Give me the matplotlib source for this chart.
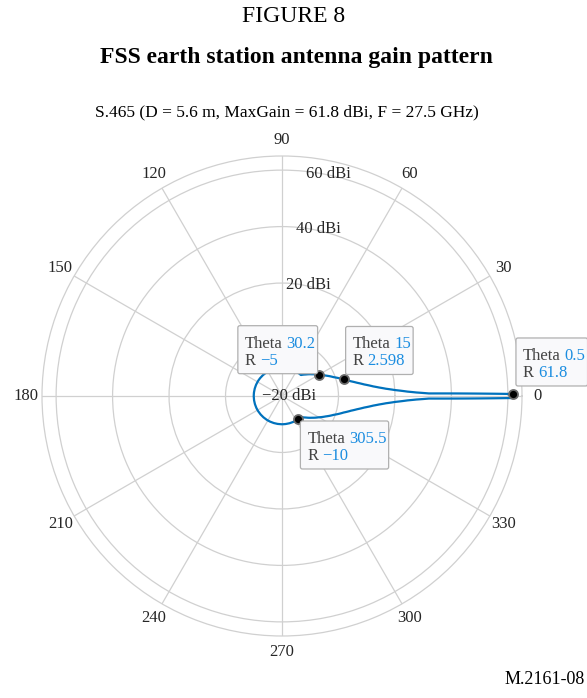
import numpy as np
import matplotlib
matplotlib.use('Agg')
import matplotlib.pyplot as plt
from matplotlib.patches import FancyBboxPatch
from matplotlib.transforms import IdentityTransform

plt.rcParams['font.family'] = ['Liberation Serif', 'DejaVu Serif']

# S.465 earth station pattern: off-axis angle (deg) and gain (dBi)
theta_deg = [0, 0.5, 1, 1.5, 2, 3, 4, 5, 6, 8, 10, 12, 15, 20, 25, 30.2, 36, 42, 48,
             305.5, 312,
             318, 324, 329.8, 335, 340, 345, 348, 350, 352, 354, 355, 356, 357,
             358, 358.5, 359, 359.5, 360]
gain_dbi = [61.8, 61.8, 32.0, 27.6, 24.5, 20.1, 16.9, 14.5, 12.5, 9.4, 7.0, 5.0, 2.6,
            -0.5, -2.9, -5.0, -6.9, -8.6, -10,
            -10, -10,
            -8.6, -6.9, -5.0, -2.9, -0.5, 2.6, 5.0, 7.0, 9.4, 12.5, 14.5, 16.9, 20.1,
            24.5, 27.6, 32.0, 61.8, 61.8]

# data tips shown on the curve
tip_theta = [30.2, 15, 0.5, 305.5]
tip_gain = [-5, 2.598, 61.8, -10]
tip_theta_text = ['30.2', '15', '0.5', '305.5']
tip_gain_text = ['\u22125', '2.598', '61.8', '\u221210']

ring_values = [-20, 0, 20, 40, 60]
ring_labels = ['\u221220 dBi', '', '20 dBi', '40 dBi', '60 dBi']  # 0 dBi sits under a tip
angle_ticks = list(range(0, 360, 30))

W, H = 587, 698
fig = plt.figure(figsize=(W / 100, H / 100), dpi=100)
fig.patch.set_facecolor('white')

fig.text(293.5 / W, 1 - 16 / H, 'FIGURE 8', ha='center', va='center', fontsize=17)
fig.text(296 / W, 1 - 57 / H, 'FSS earth station antenna gain pattern',
         ha='center', va='center', fontsize=17, fontweight='bold')
fig.text(287 / W, 1 - 112 / H, 'S.465 (D = 5.6 m, MaxGain = 61.8 dBi, F = 27.5 GHz)',
         ha='center', va='center', fontsize=12.5)
fig.text(585 / W, 1 - 680 / H, 'M.2161-08', ha='right', va='center', fontsize=13)

ax = fig.add_axes([42 / W, 62 / H, 480 / W, 480 / H], projection='polar')
ax.set_rlim(-20, 65)
ax.set_rticks(ring_values)
ax.set_yticklabels([])
ax.set_thetagrids(angle_ticks, labels=[str(a) for a in angle_ticks], fontsize=12)
ax.tick_params(axis='x', pad=1, colors='#262626')
ax.grid(True, color='#d0d0d0', linewidth=0.9)
ax.spines['polar'].set_color('#d0d0d0')
ax.spines['polar'].set_linewidth(0.9)

for r, lab in zip(ring_values, ring_labels):
    if lab:
        ax.annotate(lab, xy=(np.deg2rad(80), r), xytext=(7, 0), textcoords='offset pixels',
                    ha='center', va='center', fontsize=12, color='#262626', zorder=3)

curve, = ax.plot(np.deg2rad(theta_deg), gain_dbi, color='#0072BD', linewidth=1.6, zorder=3)
# draw segments as polar curves (arcs / spirals) rather than straight chords
curve.get_path()._interpolation_steps = 60
ax.plot(np.deg2rad(tip_theta), tip_gain, 'o', ms=6.5, mfc='black', mec='#6a6a6a',
        mew=1.3, zorder=4)

fig.canvas.draw()
renderer = fig.canvas.get_renderer()

# box placement relative to the tip point: (side, dx, dy) in pixels
tip_place = [('ul', -1, 1), ('ur', 2, 5), ('ur', 3, 8), ('lr', 2, -2)]
box_h = 48

for th, g, tt, gt, (side, dx, dy) in zip(tip_theta, tip_gain, tip_theta_text,
                                         tip_gain_text, tip_place):
    px, py = ax.transData.transform((np.deg2rad(th), g))
    kw = dict(transform=IdentityTransform(), fontsize=12, va='baseline', zorder=7)
    t1 = fig.text(0, 0, 'Theta', color='#444444', **kw)
    v1 = fig.text(0, 0, tt, color='#1b8de0', **kw)
    t2 = fig.text(0, 0, 'R', color='#444444', **kw)
    v2 = fig.text(0, 0, gt, color='#1b8de0', **kw)
    w1 = t1.get_window_extent(renderer).width + 4 + v1.get_window_extent(renderer).width
    w2 = t2.get_window_extent(renderer).width + 4 + v2.get_window_extent(renderer).width
    box_w = 7 + max(w1, w2) + 2
    if side == 'ul':
        left, top = px + dx - box_w, py + dy + box_h
    elif side == 'ur':
        left, top = px + dx, py + dy + box_h
    else:
        left, top = px + dx, py + dy
    box = FancyBboxPatch((left, top - box_h), box_w, box_h,
                         boxstyle='round,pad=0,rounding_size=2',
                         transform=IdentityTransform(), facecolor='#f9f9fb',
                         edgecolor='#b0b0b0', linewidth=0.9, zorder=6)
    fig.add_artist(box)
    t1.set_position((left + 7, top - 22))
    v1.set_position((left + 7 + t1.get_window_extent(renderer).width + 4, top - 22))
    t2.set_position((left + 7, top - 39))
    v2.set_position((left + 7 + t2.get_window_extent(renderer).width + 4, top - 39))

fig.savefig('out.png', dpi=100)
